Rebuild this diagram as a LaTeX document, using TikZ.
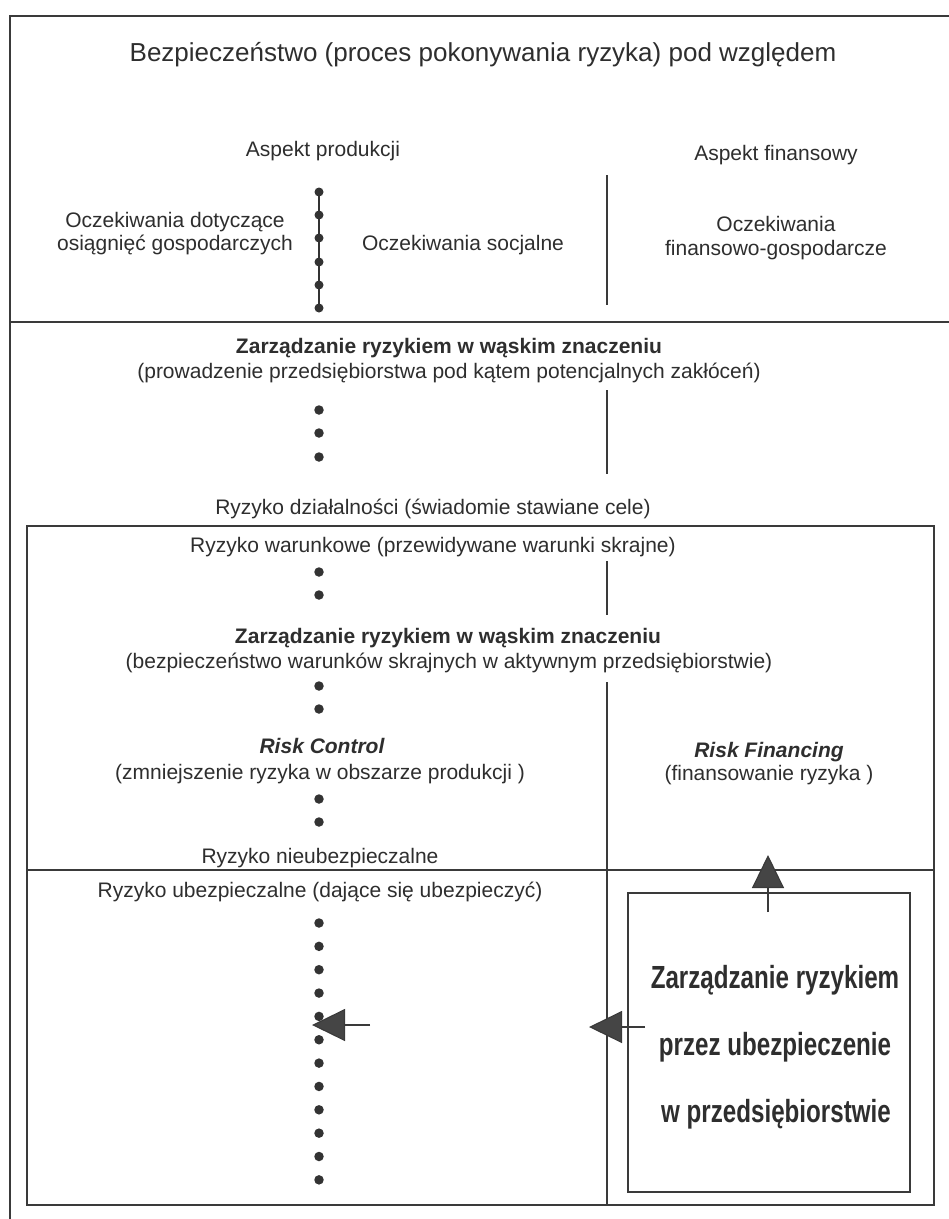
\documentclass[tikz,border=0pt]{standalone}
\usepackage{fontspec}
\setmainfont{Liberation Sans}
\newfontfamily\boxfont[FakeStretch=0.755]{Liberation Sans}
\usetikzlibrary{arrows.meta}
\definecolor{linec}{HTML}{3A3A3A}
\definecolor{txtc}{HTML}{2E2E2E}
\definecolor{dotc}{HTML}{333333}
\definecolor{headc}{HTML}{454545}
\begin{document}
\begin{tikzpicture}[x=1pt,y=-1pt,
  txt/.style={font=\fontsize{21}{25}\selectfont, text=txtc, inner sep=0pt, anchor=base},
  ttl/.style={txt, font=\fontsize{26}{30}\selectfont},
  btxt/.style={txt, font=\fontsize{21}{25}\selectfont\bfseries},
  bitxt/.style={txt, font=\fontsize{21}{25}\selectfont\bfseries\itshape},
  boxtxt/.style={txt, font=\fontsize{32}{36}\selectfont\boxfont\bfseries},
  frame/.style={draw=linec, line width=1.3pt},
  vline/.style={draw=linec, line width=1.1pt},
  dotn/.style={circle, fill=dotc, inner sep=0pt, minimum size=9.5pt},
  arr/.style={draw=linec, line width=1.1pt, -{Triangle[length=33pt,width=32pt,fill=headc]}}
]
\useasboundingbox[fill=white] (0,0) rectangle (949,1219);

% frames
\draw[frame] (10,1219) -- (10,16) -- (949,16);
\draw[frame] (10,322) -- (949,322);
\draw[frame] (27,526) rectangle (934,1205);
\draw[frame] (27,870) -- (934,870);

% vertical separator segments
\draw[vline] (607,175) -- (607,305);
\draw[vline] (607,390) -- (607,474);
\draw[vline] (607,561) -- (607,615);
\draw[vline] (607,682) -- (607,1205);

% texts, top section
\node[ttl] (title) at (483,61) {Bezpieczeństwo (proces pokonywania ryzyka) pod względem};
\node[txt] (aprod) at (323,156) {Aspekt produkcji};
\node[txt] (afin) at (776,160) {Aspekt finansowy};
\node[txt] (oczA1) at (175,227) {Oczekiwania dotyczące};
\node[txt] (oczA2) at (175,250) {osiągnięć gospodarczych};
\node[txt] (oczS) at (463,250) {Oczekiwania socjalne};
\node[txt] (oczF1) at (776,231) {Oczekiwania};
\node[txt] (oczF2) at (776,255) {finansowo-gospodarcze};

% chained dots
\draw[draw=dotc, line width=2pt] (319,192) -- (319,308);
\foreach \y [count=\i] in {192,215,238,262,285,308}
  \node[dotn, minimum size=9pt] (t\i) at (319,\y) {};

% second section
\node[btxt] (zr1) at (449,353) {Zarządzanie ryzykiem w wąskim znaczeniu};
\node[txt] (zr1b) at (449,378) {(prowadzenie przedsiębiorstwa pod kątem potencjalnych zakłóceń)};
\foreach \y [count=\i] in {410,433,457}
  \node[dotn] (m\i) at (319,\y) {};
\node[txt] (rdz) at (433,514) {Ryzyko działalności (świadomie stawiane cele)};

% inner box
\node[txt] (rwar) at (433,552) {Ryzyko warunkowe (przewidywane warunki skrajne)};
\foreach \y [count=\i] in {572,595}
  \node[dotn] (w\i) at (319,\y) {};
\node[btxt] (zr2) at (448,643) {Zarządzanie ryzykiem w wąskim znaczeniu};
\node[txt] (zr2b) at (449,668) {(bezpieczeństwo warunków skrajnych w aktywnym przedsiębiorstwie)};
\foreach \y [count=\i] in {686,709}
  \node[dotn] (b\i) at (319,\y) {};
\node[bitxt] (rc) at (322,753) {Risk Control};
\node[txt] (rcb) at (320,779) {(zmniejszenie ryzyka w obszarze produkcji )};
\node[bitxt] (rf) at (769,757) {Risk Financing};
\node[txt] (rfb) at (769,780) {(finansowanie ryzyka )};
\foreach \y [count=\i] in {799,822}
  \node[dotn] (c\i) at (319,\y) {};
\node[txt] (rnu) at (320,863) {Ryzyko nieubezpieczalne};
\node[txt] (ru) at (320,897) {Ryzyko ubezpieczalne (dające się ubezpieczyć)};

% lower dots
\foreach \k in {0,...,11}
  \node[dotn] (l\k) at (319,{923+23.35*\k}) {};

% insurance box
\node[draw=linec, line width=1.3pt, minimum width=282pt, minimum height=299pt, inner sep=0pt] (ubox) at (769,1042.5) {};
\node[boxtxt] (ub1) at (775,988) {Zarządzanie ryzykiem};
\node[boxtxt] (ub2) at (775,1055) {przez ubezpieczenie};
\node[boxtxt] (ub3) at (776,1122) {w przedsiębiorstwie};

% arrows
\coordinate (upS) at (768,912);
\coordinate (upT) at (768,855);
\draw[arr] (upS) -- (upT);
\coordinate (a2S) at (645,1027);
\coordinate (a2T) at (589,1027);
\draw[arr] (a2S) -- (a2T);
\coordinate (a1S) at (370,1025);
\coordinate (a1T) at (312,1025);
\draw[arr] (a1S) -- (a1T);
\end{tikzpicture}
\end{document}
